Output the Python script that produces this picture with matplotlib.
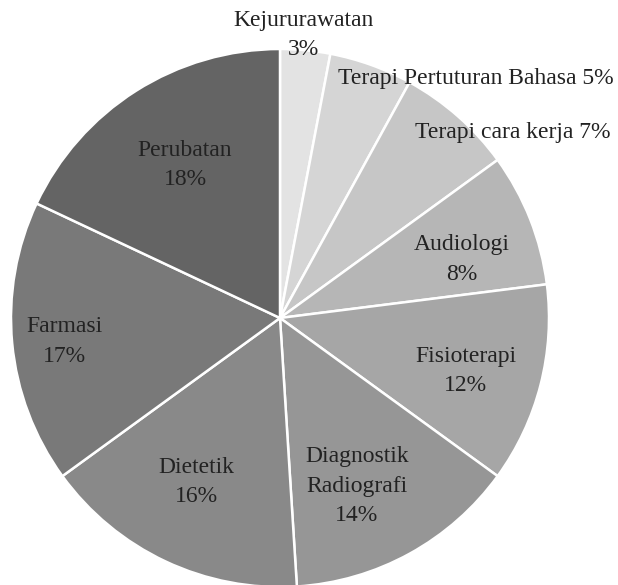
import matplotlib.pyplot as plt

plt.rcParams['font.family'] = ['Liberation Serif', 'DejaVu Serif']

# slices, clockwise from 12 o'clock
names = ['Kejururawatan', 'Terapi Pertuturan Bahasa', 'Terapi cara kerja',
         'Audiologi', 'Fisioterapi', 'Diagnostik\nRadiografi', 'Dietetik',
         'Farmasi', 'Perubatan']
shares = [3, 5, 7, 8, 12, 14, 16, 17, 18]
greys = ['#e3e3e3', '#d5d5d5', '#c6c6c6', '#b6b6b6', '#a6a6a6',
         '#969696', '#898989', '#797979', '#646464']

# label text layout: separator between name and percentage
seps = ['\n', ' ', ' ', '\n', '\n', '\n', '\n', '\n', '\n']
# label centres in pie units (radius = 1)
label_xy = [(0.089, 1.052), (0.729, 0.892), (0.866, 0.688),
            (0.677, 0.216), (0.691, -0.197), (0.286, -0.625),
            (-0.312, -0.610), (-0.803, -0.086), (-0.353, 0.569)]

fig = plt.figure(figsize=(6.18, 5.85), dpi=100)
ax = fig.add_axes([0, 0, 1, 1])

scale = 269.0
cx, cy = 280.0, 318.0
ax.pie(shares, colors=greys, startangle=90, counterclock=False, radius=1,
       wedgeprops=dict(edgecolor='white', linewidth=1.8))

for name, sep, val, (x, y) in zip(names, seps, shares, label_xy):
    ax.text(x, y, f'{name}{sep}{val}%', ha='center', va='center',
            fontsize=17, color='#222222', linespacing=1.55)

ax.set_xlim(-cx / scale, (618 - cx) / scale)
ax.set_ylim(-(585 - cy) / scale, cy / scale)
ax.set_aspect('equal')
ax.axis('off')

fig.savefig('out.png', dpi=100)
